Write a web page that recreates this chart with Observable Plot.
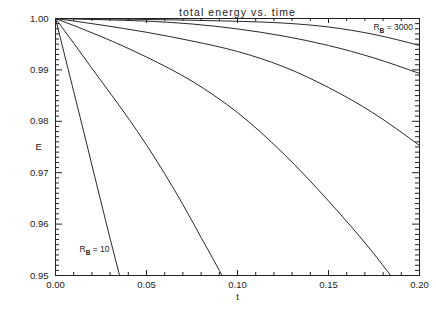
<!DOCTYPE html>
<html><head><meta charset="utf-8">
<script src="https://cdn.jsdelivr.net/npm/d3@7"></script>
<script src="https://cdn.jsdelivr.net/npm/@observablehq/plot@0.6"></script>
<style>
html,body{margin:0;padding:0;background:#fff;}
#chart svg{display:block;}
</style></head><body><div id="chart"></div>
<script>
// ---- data ----
const titleText = "total energy vs. time";
const xLabel = "t";
const yLabel = "E";
const seriesNames = ["3000", "1000", "300", "100", "30", "10"];

const t3000 = [0, 0.025, 0.05, 0.075, 0.1, 0.125, 0.15, 0.175, 0.2];
const e3000 = [1.0, 0.99994, 0.99982, 0.99967, 0.99946, 0.99912, 0.99835, 0.99690, 0.99475];

const t1000 = [0, 0.025, 0.05, 0.075, 0.1, 0.125, 0.15, 0.175, 0.2];
const e1000 = [1.0, 0.99977, 0.99949, 0.99893, 0.99797, 0.99660, 0.99475, 0.99232, 0.98930];

const t300 = [0, 0.025, 0.05, 0.075, 0.1, 0.125, 0.15, 0.175, 0.2];
const e300 = [1.0, 0.99874, 0.99732, 0.99562, 0.99358, 0.99066, 0.98658, 0.98152, 0.97529];

const t100 = [0, 0.025, 0.05, 0.075, 0.1, 0.125, 0.15, 0.175, 0.1842];
const e100 = [1.0, 0.9965, 0.9925, 0.9878, 0.9817, 0.9738, 0.9645, 0.9542, 0.9500];

const t30 = [0, 0.01, 0.02, 0.03, 0.04, 0.05, 0.06, 0.07, 0.08, 0.09, 0.0915];
const e30 = [1.0, 0.9952, 0.9903, 0.9855, 0.9806, 0.9754, 0.9698, 0.9638, 0.9574, 0.9510, 0.9500];

const t10 = [0, 0.005, 0.01, 0.015, 0.02, 0.025, 0.03, 0.0352];
const e10 = [1.0, 0.9929, 0.9858, 0.9787, 0.9715, 0.9643, 0.9572, 0.9500];

const xMajor = [0, 0.05, 0.10, 0.15, 0.20];
const yMajor = [0.95, 0.96, 0.97, 0.98, 0.99, 1.00];
const xMinor = d3.range(1, 20).map(i => i / 100).filter(v => Math.round(v * 100) % 5 !== 0);
const yMinor = d3.range(951, 1000).map(i => i / 1000).filter(v => Math.round(v * 1000) % 10 !== 0);

const labelText = ["R_B = 3000", "R_B = 10"];
const labelT = [0.1747, 0.0132];
const labelE = [0.99825, 0.95506];

// ---- build table ----
const ts = [t3000, t1000, t300, t100, t30, t10];
const es = [e3000, e1000, e300, e100, e30, e10];
const rows = [];
seriesNames.forEach((s, i) => ts[i].forEach((t, j) => rows.push({series: s, t, E: es[i][j]})));
const labels = labelText.map((text, i) => ({text, t: labelT[i], E: labelE[i]}));

const W = 436, H = 312, mL = 55, mR = 17, mT = 18, mB = 37;
const innerH = H - mT - mB, innerW = W - mL - mR;
const ink = "#222";

const plot = Plot.plot({
  width: W, height: H,
  marginLeft: mL, marginRight: mR, marginTop: mT, marginBottom: mB,
  style: {fontFamily: "'Liberation Sans', Arial, sans-serif", fontSize: "9.5px", color: ink, background: "#fff"},
  x: {domain: [0, 0.2], label: null},
  y: {domain: [0.95, 1.0], label: null},
  marks: [
    Plot.line(rows, {x: "t", y: "E", z: "series", stroke: "#111", strokeWidth: 0.9, curve: "monotone-x", clip: true}),
    Plot.tickX(xMajor, {x: d => d, insetTop: innerH - 5, stroke: ink}),
    Plot.tickX(xMajor, {x: d => d, insetBottom: innerH - 5, stroke: ink}),
    Plot.tickX(xMinor, {x: d => d, insetTop: innerH - 3, stroke: ink}),
    Plot.tickX(xMinor, {x: d => d, insetBottom: innerH - 3, stroke: ink}),
    Plot.tickY(yMajor, {y: d => d, insetRight: innerW - 7, stroke: ink}),
    Plot.tickY(yMajor, {y: d => d, insetLeft: innerW - 7, stroke: ink}),
    Plot.tickY(yMinor, {y: d => d, insetRight: innerW - 4, stroke: ink}),
    Plot.tickY(yMinor, {y: d => d, insetLeft: innerW - 4, stroke: ink}),
    Plot.frame({stroke: ink}),
    Plot.axisX(xMajor, {tickSize: 0, tickPadding: 6, tickFormat: d3.format(".2f"), label: null}),
    Plot.axisY(yMajor, {tickSize: 0, tickPadding: 7, tickFormat: d3.format(".2f"), label: null}),
    Plot.text([xLabel], {frameAnchor: "bottom", dy: 24, text: d => d, fill: ink, fontSize: 9.5}),
    Plot.text([yLabel], {frameAnchor: "left", dx: -20, text: d => d, fill: ink, fontSize: 9.5}),
    Plot.text([titleText], {frameAnchor: "top", dy: -10, text: d => d, fill: ink, fontSize: 10.5}),
    Plot.text(labels, {x: "t", y: "E", text: "text", textAnchor: "start", fill: ink, fontSize: 8.5})
  ]
});

d3.select(plot).selectAll("text").each(function () {
  const s = this.textContent;
  if (s === titleText) d3.select(this).attr("letter-spacing", "1.1px");
  if (s.startsWith("R_B")) {
    const sel = d3.select(this);
    sel.text(null);
    sel.append("tspan").text("R");
    sel.append("tspan").attr("dy", 2.5).attr("font-size", "6.5px").attr("font-weight", "bold").text("B");
    sel.append("tspan").attr("dy", -2.5).text(" = " + s.split("= ")[1]);
  }
});

document.getElementById("chart").appendChild(plot);
</script></body></html>
